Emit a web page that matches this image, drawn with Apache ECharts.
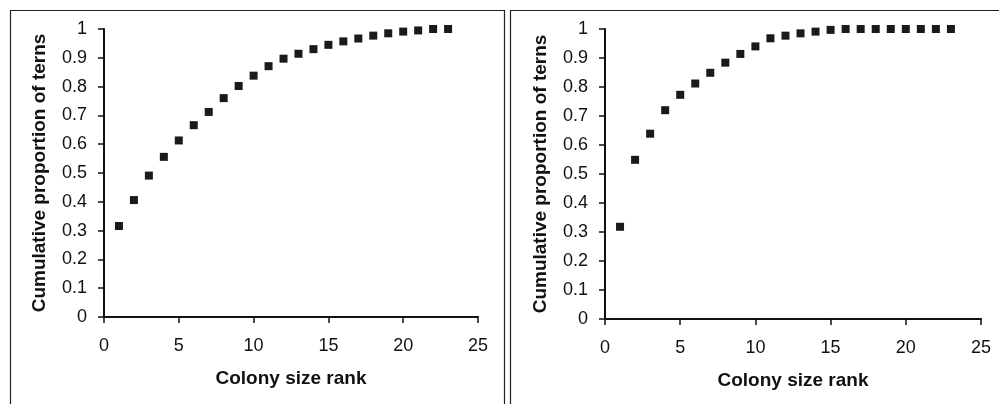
<!DOCTYPE html>
<html>
<head>
<meta charset="utf-8">
<script src="https://cdn.jsdelivr.net/npm/echarts@6/dist/echarts.min.js"></script>
<style>
html,body{margin:0;padding:0;background:#fff;}
#c{width:999px;height:404px;}
</style>
</head>
<body>
<div id="c"></div>
<script>
var ranks = [1,2,3,4,5,6,7,8,9,10,11,12,13,14,15,16,17,18,19,20,21,22,23];
var leftValues = [0.316,0.406,0.491,0.556,0.613,0.666,0.712,0.760,0.802,0.838,0.871,0.897,0.914,0.930,0.945,0.957,0.967,0.977,0.985,0.991,0.995,1.0,1.0];
var rightValues = [0.318,0.549,0.639,0.720,0.773,0.812,0.849,0.884,0.914,0.940,0.968,0.977,0.985,0.991,0.997,1.0,1.0,1.0,1.0,1.0,1.0,1.0,1.0];
var xTitle = "Colony size rank";
var yTitle = "Cumulative proportion of terns";

function pairs(vals){ return ranks.map(function(r,i){ return [r, vals[i]]; }); }

var font = "'Liberation Sans', Arial, sans-serif";
function xAxis(idx){
  return {
    type:'value', gridIndex:idx, min:0, max:25, interval:5,
    name:xTitle, nameLocation:'middle', nameGap:52,
    nameTextStyle:{fontFamily:font, fontSize:19, fontWeight:'bold', color:'#111'},
    axisLine:{lineStyle:{color:'#111', width:2}},
    axisTick:{show:true, length:6, lineStyle:{color:'#111', width:1.5}},
    axisLabel:{fontFamily:font, fontSize:18, color:'#111', margin:20},
    splitLine:{show:false}
  };
}
function yAxis(idx){
  return {
    type:'value', gridIndex:idx, min:0, max:1, interval:0.1,
    name:yTitle, nameLocation:'middle', nameGap:55,
    nameTextStyle:{fontFamily:font, fontSize:19, fontWeight:'bold', color:'#111'},
    axisLine:{lineStyle:{color:'#111', width:2}},
    axisTick:{show:true, length:6, lineStyle:{color:'#111', width:1.5}},
    axisLabel:{fontFamily:font, fontSize:18, color:'#111', margin:17,
      formatter:function(v){ return String(Math.round(v*10)/10); }},
    splitLine:{show:false}
  };
}

var chart = echarts.init(document.getElementById('c'), null, {renderer:'canvas'});
chart.setOption({
  animation:false,
  backgroundColor:'#fff',
  grid:[
    {left:104, top:29, width:374, height:288},
    {left:605, top:29, width:376, height:290}
  ],
  xAxis:[xAxis(0), xAxis(1)],
  yAxis:[yAxis(0), yAxis(1)],
  graphic:[
    {type:'rect', shape:{x:10.5, y:10.5, width:494, height:420}, style:{fill:'none', stroke:'#222', lineWidth:1.2}, z:-1},
    {type:'rect', shape:{x:510.5, y:10.5, width:520, height:420}, style:{fill:'none', stroke:'#222', lineWidth:1.2}, z:-1}
  ],
  series:[
    {type:'scatter', xAxisIndex:0, yAxisIndex:0, data:pairs(leftValues), symbol:'rect', symbolSize:8, itemStyle:{color:'#1a1a1a', opacity:1}},
    {type:'scatter', xAxisIndex:1, yAxisIndex:1, data:pairs(rightValues), symbol:'rect', symbolSize:8, itemStyle:{color:'#1a1a1a', opacity:1}}
  ]
});
</script>
</body>
</html>
